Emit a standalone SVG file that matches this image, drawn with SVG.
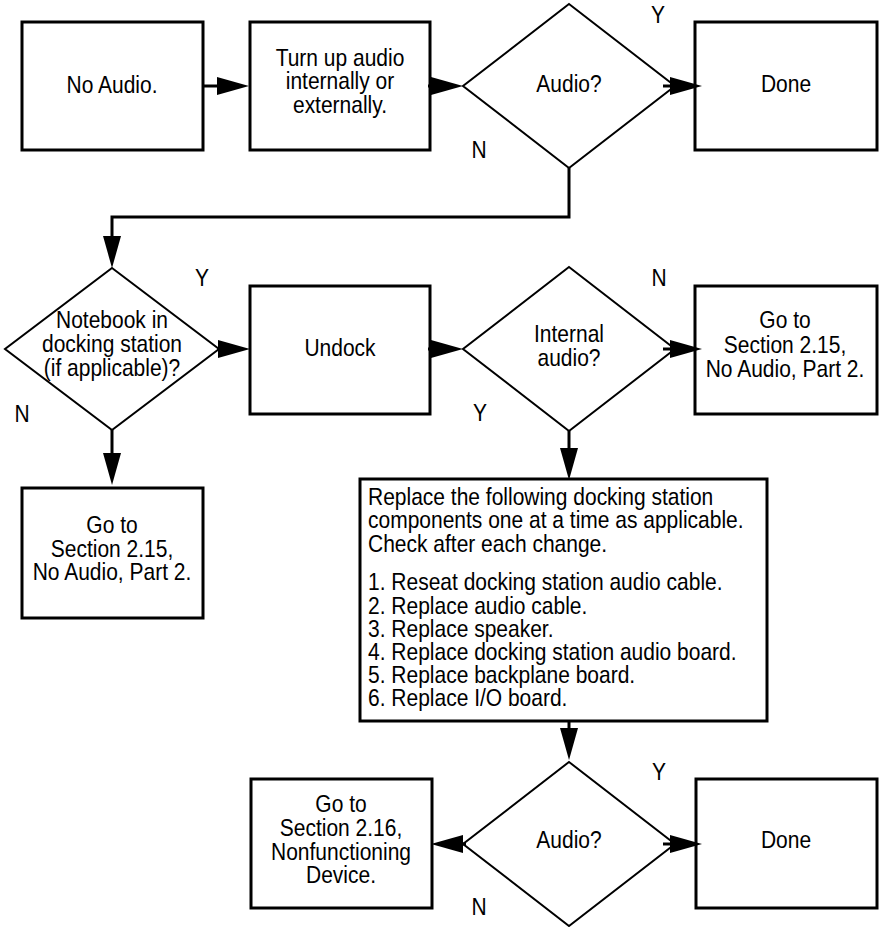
<svg xmlns="http://www.w3.org/2000/svg" width="881" height="927" viewBox="0 0 881 927">
<style>
  .box { fill: #fff; stroke: #000; stroke-width: 3; }
  .dia { fill: #fff; stroke: #000; stroke-width: 2; }
  .t { font-family: "Liberation Sans", Arial, sans-serif; font-size: 24px; fill: #000; }
  .c { text-anchor: middle; }
  .conn { fill: none; stroke: #000; stroke-width: 3; marker-end: url(#ah); }
</style>
<defs>
  <marker id="ah" markerUnits="userSpaceOnUse" markerWidth="33" markerHeight="19" refX="0" refY="9" orient="auto" overflow="visible">
    <path d="M0,0 L32,9 L0,18 Z" fill="#000"/>
  </marker>
</defs>
<rect width="881" height="927" fill="#fff"/>

<g id="no-audio">
  <rect class="box" x="22" y="22" width="181" height="128"/>
  <text class="t c" transform="translate(112 0) scale(0.875 1)" x="0" y="93">No Audio.</text>
</g>
<g id="turn-up">
  <rect class="box" x="250" y="22" width="180" height="128"/>
  <g class="t c" transform="translate(340 0) scale(0.875 1)">
    <text x="0" y="66">Turn up audio</text>
    <text x="0" y="89.5">internally or</text>
    <text x="0" y="113">externally.</text>
  </g>
</g>
<g id="audio1">
  <polygon class="dia" points="569,4 675,86 569,168 463,86"/>
  <text class="t c" transform="translate(569 0) scale(0.875 1)" x="0" y="92">Audio?</text>
</g>
<g id="done1">
  <rect class="box" x="695" y="22" width="182" height="128"/>
  <text class="t c" transform="translate(786 0) scale(0.875 1)" x="0" y="92">Done</text>
</g>
<g id="notebook">
  <polygon class="dia" points="112,268 219,349 112,430 5,349"/>
  <g class="t c" transform="translate(112 0) scale(0.875 1)">
    <text x="0" y="328">Notebook in</text>
    <text x="0" y="352">docking station</text>
    <text x="0" y="376">(if applicable)?</text>
  </g>
</g>
<g id="undock">
  <rect class="box" x="250" y="286" width="180" height="128"/>
  <text class="t c" transform="translate(340 0) scale(0.875 1)" x="0" y="356">Undock</text>
</g>
<g id="internal">
  <polygon class="dia" points="569,267 675,349 569,431 463,349"/>
  <g class="t c" transform="translate(569 0) scale(0.875 1)">
    <text x="0" y="342">Internal</text>
    <text x="0" y="366">audio?</text>
  </g>
</g>
<g id="goto-right">
  <rect class="box" x="695" y="286" width="182" height="128"/>
  <g class="t c" transform="translate(785 0) scale(0.875 1)">
    <text x="0" y="328">Go to</text>
    <text x="0" y="353">Section 2.15,</text>
    <text x="0" y="377">No Audio, Part 2.</text>
  </g>
</g>
<g id="goto-left">
  <rect class="box" x="22" y="488" width="181" height="130"/>
  <g class="t c" transform="translate(112 0) scale(0.875 1)">
    <text x="0" y="533">Go to</text>
    <text x="0" y="557">Section 2.15,</text>
    <text x="0" y="580">No Audio, Part 2.</text>
  </g>
</g>
<g id="replace">
  <rect class="box" x="360" y="479" width="407" height="242"/>
  <g class="t" transform="translate(368 0) scale(0.875 1)">
    <text x="0" y="505">Replace the following docking station</text>
    <text x="0" y="528">components one at a time as applicable.</text>
    <text x="0" y="552">Check after each change.</text>
    <text x="0" y="590">1. Reseat docking station audio cable.</text>
    <text x="0" y="614">2. Replace audio cable.</text>
    <text x="0" y="637">3. Replace speaker.</text>
    <text x="0" y="660">4. Replace docking station audio board.</text>
    <text x="0" y="683">5. Replace backplane board.</text>
    <text x="0" y="706">6. Replace I/O board.</text>
  </g>
</g>
<g id="audio2">
  <polygon class="dia" points="569,762 675,844 569,926 463,844"/>
  <text class="t c" transform="translate(569 0) scale(0.875 1)" x="0" y="848">Audio?</text>
</g>
<g id="goto-216">
  <rect class="box" x="251" y="779" width="181" height="129"/>
  <g class="t c" transform="translate(341 0) scale(0.875 1)">
    <text x="0" y="812">Go to</text>
    <text x="0" y="836">Section 2.16,</text>
    <text x="0" y="860">Nonfunctioning</text>
    <text x="0" y="883">Device.</text>
  </g>
</g>
<g id="done2">
  <rect class="box" x="696" y="779" width="181" height="129"/>
  <text class="t c" transform="translate(786 0) scale(0.875 1)" x="0" y="848">Done</text>
</g>

<g id="connectors">
  <path class="conn" d="M203,86 H217"/>
  <path class="conn" d="M428,86 H431"/>
  <path class="conn" d="M663,86 H670"/>
  <path class="conn" d="M569,168 V217 H112 V236"/>
  <path class="conn" d="M217,349 H218"/>
  <path class="conn" d="M428,349 H431"/>
  <path class="conn" d="M663,349 H670"/>
  <path class="conn" d="M112,430 V453"/>
  <path class="conn" d="M569,431 V448"/>
  <path class="conn" d="M569,721 V728"/>
  <path class="conn" d="M466,844 H463"/>
  <path class="conn" d="M663,844 H670"/>
</g>

<g id="labels" class="t c">
  <text transform="translate(658 0) scale(0.875 1)" x="0" y="23">Y</text>
  <text transform="translate(479 0) scale(0.875 1)" x="0" y="158">N</text>
  <text transform="translate(202 0) scale(0.875 1)" x="0" y="286">Y</text>
  <text transform="translate(22 0) scale(0.875 1)" x="0" y="422">N</text>
  <text transform="translate(659 0) scale(0.875 1)" x="0" y="286">N</text>
  <text transform="translate(480 0) scale(0.875 1)" x="0" y="421">Y</text>
  <text transform="translate(659 0) scale(0.875 1)" x="0" y="780">Y</text>
  <text transform="translate(479 0) scale(0.875 1)" x="0" y="915">N</text>
</g>
</svg>
